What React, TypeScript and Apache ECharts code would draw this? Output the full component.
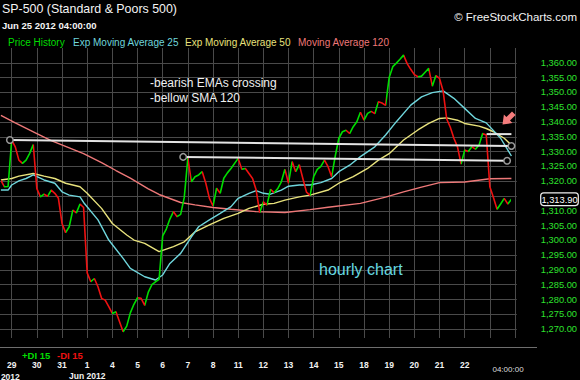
import React, { useEffect, useRef } from 'react';
import * as echarts from 'echarts';

// ---- data (hourly bars, 7 per trading day) ----
const dayLabels = ['29', '30', '31', '1', '4', '5', '6', '7', '8', '11', '12', '13', '14', '15', '18', '19', '20', '21', '22'];
// first bar of each trading day (29 May ... 26 Jun)
const dayStartBars = [3, 10, 17, 24, 31, 38, 45, 52, 59, 66, 73, 80, 87, 94, 101, 108, 115, 122, 129, 136, 143];
const monthLabels = ['May 2012', 'Jun 2012'];
const monthBars = [0, 24];
const priceTicks = [1270, 1275, 1280, 1285, 1290, 1295, 1300, 1305, 1310, 1315, 1320, 1325, 1330, 1335, 1340, 1345, 1350, 1355, 1360];

const price = [
  1320.3, 1318.1, 1318.2,
  1333.9, 1331.6, 1327.1, 1326.0, 1327.1, 1329.4, 1332.4,
  1317.5, 1314.7, 1315.6, 1314.9, 1317.0, 1315.9, 1314.2,
  1305.7, 1302.6, 1304.6, 1310.2, 1309.3, 1312.3, 1311.1,
  1289.0, 1286.0, 1287.1, 1284.3, 1280.4, 1279.8, 1277.6,
  1275.3, 1275.9, 1272.5, 1269.1, 1271.0, 1275.5, 1278.4,
  1280.6, 1280.4, 1278.0, 1282.5, 1285.0, 1286.0, 1286.8,
  1301.5, 1303.8, 1307.2, 1309.7, 1308.0, 1308.8, 1314.5,
  1327.8, 1319.8, 1321.5, 1322.1, 1323.2, 1319.3, 1314.2,
  1311.6, 1317.6, 1315.9, 1321.0, 1322.8, 1324.3, 1326.0,
  1327.7, 1324.0, 1324.3, 1322.6, 1320.9, 1317.0, 1309.4,
  1313.0, 1311.9, 1317.2, 1316.1, 1317.5, 1319.8, 1324.0,
  1319.3, 1326.6, 1323.2, 1325.6, 1320.8, 1316.3, 1315.2,
  1321.5, 1324.0, 1325.0, 1327.1, 1324.9, 1321.5, 1328.5,
  1334.5, 1336.7, 1337.2, 1336.1, 1338.4, 1340.1, 1343.3,
  1340.6, 1342.9, 1343.6, 1342.8, 1346.8, 1346.4, 1345.6,
  1355.0, 1358.7, 1359.9, 1361.2, 1362.6, 1359.7, 1357.8,
  1356.0, 1355.3, 1355.5, 1356.8, 1358.1, 1352.1, 1355.7,
  1354.7, 1350.5, 1341.0, 1338.2, 1334.5, 1331.6, 1325.8,
  1330.5, 1330.0, 1331.6, 1330.8, 1332.2, 1336.1, 1335.6,
  1318.1, 1314.5, 1310.5, 1312.3, 1314.2, 1312.3, 1313.9,
];

const ema25 = [
  [0, 1317.0], [2, 1317.0], [3, 1318.7], [5, 1320.1], [7, 1320.9], [9, 1322.1], [12, 1320.4], [15, 1319.3],
  [17, 1316.4], [19, 1315.3], [22, 1314.7], [23, 1312.8], [27, 1306.9], [30, 1300.1], [34, 1293.9], [36, 1290.5],
  [40, 1287.7], [43, 1286.6], [45, 1288.3], [47, 1292.2], [50, 1295.6], [53, 1301.2], [55, 1304.6], [58, 1306.9],
  [61, 1309.1], [64, 1311.4], [66, 1314.2], [69, 1315.9], [71, 1316.8], [73, 1315.9], [75, 1315.6], [78, 1317.0],
  [80, 1318.3], [83, 1318.7], [86, 1318.7], [89, 1319.5], [92, 1320.9], [94, 1323.2], [97, 1325.4], [100, 1328.3],
  [104, 1331.6], [107, 1335.6], [110, 1340.1], [114, 1345.7], [117, 1348.5], [120, 1349.9], [123, 1350.5],
  [126, 1348.0], [129, 1344.6], [132, 1341.2], [135, 1339.7], [139, 1334.5], [142, 1328.5],
];

const ema50 = [
  [0, 1320.4], [3, 1320.9], [5, 1321.7], [9, 1322.6], [12, 1321.7], [15, 1320.9], [18, 1319.3], [22, 1318.1],
  [24, 1315.9], [28, 1310.8], [31, 1305.7], [35, 1301.8], [37, 1300.1], [40, 1299.0], [44, 1296.2], [48, 1297.9],
  [51, 1299.5], [54, 1302.9], [58, 1305.2], [62, 1307.4], [66, 1309.1], [69, 1310.8], [73, 1312.2], [76, 1312.5],
  [79, 1313.6], [83, 1314.7], [86, 1315.3], [91, 1317.0], [94, 1319.3], [98, 1321.5], [102, 1324.3], [105, 1327.1],
  [108, 1329.3], [112, 1333.9], [116, 1337.3], [119, 1339.5], [122, 1341.2], [124, 1341.4], [127, 1340.6],
  [129, 1339.5], [133, 1338.6], [135, 1337.8], [137, 1336.7], [140, 1334.5], [142, 1332.2],
];

const sma120 = [
  [0, 1342.2], [4, 1339.7], [10, 1336.1], [14, 1333.7], [23, 1329.3], [28, 1326.3], [32, 1323.6], [36, 1321.0],
  [41, 1317.4], [44, 1315.5], [50, 1312.8], [54, 1312.0], [59, 1311.1], [64, 1310.5], [71, 1309.7], [79, 1309.4],
  [86, 1310.4], [91, 1311.2], [100, 1312.5], [107, 1314.6], [112, 1316.4], [117, 1318.0], [122, 1319.5],
  [129, 1319.7], [136, 1320.8], [142, 1320.9],
];

const trendLine1 = [[2.5, 1333.9], [142, 1331.9]];
const trendLine2 = [[50.7, 1328.2], [140.8, 1326.9]];
const trendLine3 = [[135.1, 1335.9], [142, 1335.9]];

const seriesNames = ['Price History', 'Exp Moving Average 25', 'Exp Moving Average 50', 'Moving Average 120'];
const notes = ['-bearish EMAs crossing', '-bellow SMA 120'];

const FONT = "'Liberation Sans', Arial, sans-serif";
const UP = '#00dd00';
const DOWN = '#ee1111';
const C25 = '#6fd6dc';
const C50 = '#e8e27c';
const C120 = '#ee7878';

export default function App() {
  const ref = useRef<HTMLDivElement>(null);

  useEffect(() => {
    if (!ref.current) return;
    const chart = echarts.init(ref.current, null, { renderer: 'svg' });

    const pieces: any[] = [];
    for (let i = 0; i < price.length - 1; i++) {
      const color = price[i + 1] >= price[i] ? UP : DOWN;
      if (i === price.length - 2) pieces.push({ gte: i, lte: i + 1, color });
      else pieces.push({ gte: i, lt: i + 1, color });
    }
    const priceData = price.map((v, i) => [i, v]);
    const xMin = -0.25;
    const xMax = 143.5;
    const fmtPrice = (v: number) =>
      Number(v).toLocaleString('en-US', { minimumFractionDigits: 2, maximumFractionDigits: 2 });

    const trendStyle = (data: number[][], ends: boolean) => ({
      type: 'line',
      data,
      silent: true,
      z: 10,
      symbol: ends ? 'circle' : 'none',
      symbolSize: 6.5,
      showSymbol: ends,
      itemStyle: { color: '#000', borderColor: '#9a9a9a', borderWidth: 1.5 },
      lineStyle: { color: '#e4e4e4', width: 2 },
      emphasis: { disabled: true },
    });

    const option: any = {
      animation: false,
      backgroundColor: '#000',
      textStyle: { fontFamily: FONT },
      grid: { left: 0, right: 63, top: 48, bottom: 42, containLabel: false },
      xAxis: [
        {
          type: 'value',
          min: xMin,
          max: xMax,
          axisLine: { show: false },
          axisTick: { show: false, customValues: dayStartBars },
          splitLine: { show: true, lineStyle: { color: '#4a4a4a', width: 1 } },
          axisLabel: {
            customValues: dayStartBars.slice(0, dayLabels.length),
            formatter: (v: number) => dayLabels[dayStartBars.indexOf(Math.round(v))] ?? '',
            color: '#f2f2f2',
            fontSize: 8.5,
            fontWeight: 'bold',
            fontFamily: FONT,
            margin: 22,
          },
        },
        {
          type: 'value',
          min: xMin,
          max: xMax,
          position: 'bottom',
          axisLine: { show: false },
          axisTick: { show: false, customValues: monthBars.slice(1) },
          splitLine: { show: false },
          axisLabel: {
            customValues: monthBars.slice(1),
            formatter: (v: number) => monthLabels[monthBars.indexOf(Math.round(v))] ?? '',
            color: '#f2f2f2',
            fontSize: 8.5,
            fontWeight: 'bold',
            fontFamily: FONT,
            margin: 33,
          },
        },
      ],
      yAxis: {
        type: 'value',
        position: 'right',
        min: 1267,
        max: 1365,
        axisLine: { show: false },
        axisTick: { show: false, customValues: priceTicks },
        splitLine: { show: true, lineStyle: { color: '#4a4a4a', width: 1 } },
        axisLabel: {
          customValues: priceTicks,
          formatter: fmtPrice,
          color: '#2ee02e',
          fontSize: 9.3,
          fontFamily: FONT,
          margin: 24,
          align: 'left',
        },
      },
      visualMap: {
        type: 'piecewise',
        show: false,
        seriesIndex: 3,
        dimension: 0,
        pieces,
      },
      series: [
        {
          name: seriesNames[3], type: 'line', data: sma120, showSymbol: false, symbol: 'none', silent: true, z: 2,
          lineStyle: { color: C120, width: 1.4 },
        },
        {
          name: seriesNames[2], type: 'line', data: ema50, showSymbol: false, symbol: 'none', silent: true, z: 3,
          lineStyle: { color: C50, width: 1.4 },
        },
        {
          name: seriesNames[1], type: 'line', data: ema25, showSymbol: false, symbol: 'none', silent: true, z: 4,
          lineStyle: { color: C25, width: 1.4 },
        },
        {
          name: seriesNames[0], type: 'line', data: priceData, showSymbol: false, symbol: 'none', silent: true, z: 5,
          lineStyle: { width: 1.6 },
        },
        trendStyle(trendLine1, true),
        trendStyle(trendLine2, true),
        trendStyle(trendLine3, false),
      ],
    };
    chart.setOption(option);

    const last = price[price.length - 1];
    const yPix = chart.convertToPixel({ yAxisIndex: 0 }, last) as number;
    const mayX = chart.convertToPixel({ xAxisIndex: 0 }, monthBars[0]) as number;
    const legendColors = [UP, C25, C50, C120];
    const legendX = [8, 73, 185, 298];

    const graphics: any[] = [
      { type: 'text', x: 2, y: 9, style: { text: 'SP-500 (Standard & Poors 500)', fill: '#f4f4f4', fontSize: 12.4, fontFamily: FONT, verticalAlign: 'middle' } },
      { type: 'text', x: 2, y: 25, style: { text: 'Jun 25 2012 04:00:00', fill: '#f4f4f4', fontSize: 9.5, fontWeight: 'bold', fontFamily: FONT, verticalAlign: 'middle' } },
      { type: 'text', x: 577, y: 17, style: { text: '\u00a9 FreeStockCharts.com', fill: '#f4f4f4', fontSize: 11.5, fontFamily: FONT, align: 'right', verticalAlign: 'middle' } },
      ...seriesNames.map((n, k) => ({
        type: 'text', x: legendX[k], y: 42.5,
        style: { text: n, fill: legendColors[k], fontSize: 10, fontFamily: FONT, verticalAlign: 'middle' },
      })),
      ...notes.map((t, k) => ({
        type: 'text', x: 150, y: 83 + k * 15, z: 20,
        style: { text: t, fill: '#f0f0f0', fontSize: 12, fontFamily: FONT, verticalAlign: 'middle' },
      })),
      { type: 'text', x: 319, y: 269.5, style: { text: 'hourly chart', fill: '#66d8e0', fontSize: 16, fontFamily: FONT, verticalAlign: 'middle' } },
      {
        type: 'polygon', z: 20,
        shape: { points: [[502.5, 124.5], [512.4, 123.1], [510, 120.6], [515.6, 115], [512, 111.4], [506.4, 117], [503.9, 114.6]] },
        style: { fill: '#f47c7c' },
      },
      { type: 'line', shape: { x1: 0, y1: 347.5, x2: 537, y2: 347.5 }, style: { stroke: '#6e6e6e', lineWidth: 1 } },
      { type: 'text', x: 22, y: 355, style: { text: '+DI 15', fill: UP, fontSize: 9.5, fontWeight: 'bold', fontFamily: FONT, verticalAlign: 'middle' } },
      { type: 'text', x: 57, y: 355, style: { text: '-DI 15', fill: DOWN, fontSize: 9.5, fontWeight: 'bold', fontFamily: FONT, verticalAlign: 'middle' } },
      // May label centred on its bar, partly outside the page as in the reference
      { type: 'text', x: mayX, y: 376.5, style: { text: monthLabels[0], fill: '#f2f2f2', fontSize: 8.5, fontWeight: 'bold', fontFamily: FONT, align: 'center', verticalAlign: 'middle' } },
      { type: 'text', x: 508, y: 369.5, style: { text: '04:00:00', fill: '#dddddd', fontSize: 8, fontFamily: FONT, align: 'center', verticalAlign: 'middle' } },
      {
        type: 'rect', z: 50,
        shape: { x: 540.7, y: yPix - 6.4, width: 37.6, height: 12.8, r: 3 },
        style: { fill: '#000', stroke: '#f0f0f0', lineWidth: 1.2 },
      },
      {
        type: 'text', z: 51, x: 559.5, y: yPix + 0.5,
        style: { text: fmtPrice(last), fill: '#ffffff', fontSize: 9.3, fontFamily: FONT, align: 'center', verticalAlign: 'middle' },
      },
    ];
    chart.setOption({ graphic: graphics });

    return () => chart.dispose();
  }, []);

  return <div ref={ref} style={{ width: 580, height: 380, position: 'absolute', left: 0, top: 0 }} />;
}
